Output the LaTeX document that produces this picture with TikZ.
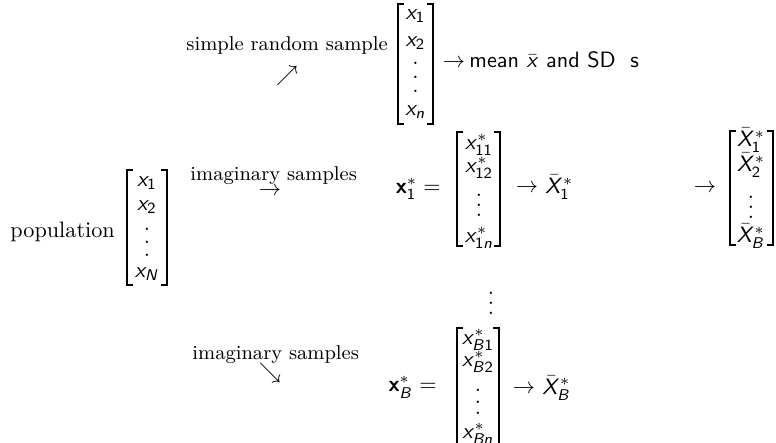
\documentclass[tikz,border=0pt]{standalone}
\usepackage{amsmath}
\DeclareMathAlphabet{\mathsfit}{OT1}{cmss}{m}{sl}
\DeclareMathAlphabet{\mathsfbf}{OT1}{cmss}{bx}{n}
\newcommand\myx{\mathsfit{x}}
\newcommand\myX{\bar{\mathsfit{X}}}
\newcommand\myn[1]{\mathsf{#1}}
\tikzset{
  brk/.style={line width=0.5pt},
  lbl/.style={font=\small},
  ent/.style={},
  dotnode/.style={}
}
% #1 name, #2 left, #3 right, #4 top, #5 bottom
\newcommand\brackets[5]{%
  \draw[brk] ({#2+6},#4) -- (#2,#4) -- (#2,#5) -- ({#2+6},#5);
  \draw[brk] ({#3-6},#4) -- (#3,#4) -- (#3,#5) -- ({#3-6},#5);
  \coordinate (#1) at ({(#2+#3)/2},{(#4+#5)/2});}
% #1 name prefix, #2 x, #3 #4 #5 y
\newcommand\threedots[5]{%
  \node[dotnode] (#1a) at (#2,#3) {.};
  \node[dotnode] (#1b) at (#2,#4) {.};
  \node[dotnode] (#1c) at (#2,#5) {.};}
\begin{document}
\begin{tikzpicture}[x=0.45pt,y=-0.45pt,every node/.style={inner sep=0pt}]
\useasboundingbox (0,0) rectangle (776,443);

% ---- top: simple random sample
\node[lbl,anchor=base west] (srs) at (186,51) {simple random sample};
\node (ne) at (287,76) {$\nearrow$};
\brackets{mtop}{398}{433}{4}{124}
\node[ent] (t1) at (415.5,16) {$\myx_{\myn1}$};
\node[ent] (t2) at (415.5,43) {$\myx_{\myn2}$};
\threedots{td}{415.5}{63}{77}{91}
\node[ent] (tn) at (415.5,112) {$\myx_{\mathsfit{n}}$};
\node (ta) at (454,63) {$\rightarrow$};
\node[anchor=base west] (mean) at (469,67.5) {\sffamily mean $\bar{\myx}$ and SD~~s};

% ---- middle: population
\node[anchor=base west] (pop) at (10,238) {population};
\brackets{mpop}{127}{167}{170}{285}
\node[ent] (p1) at (147,183) {$\myx_{\myn1}$};
\node[ent] (p2) at (147,207) {$\myx_{\myn2}$};
\threedots{pd}{147}{229}{242}{255}
\node[ent] (pN) at (147,274) {$\myx_{\mathsfit{N}}$};
\node[lbl,anchor=base west] (ims1) at (190,181) {imaginary samples};
\node (ra) at (270,191) {$\rightarrow$};

\node[anchor=base east] (xone) at (441,193.5) {$\mathsfbf{x}^*_{\myn1} =$};
\brackets{mone}{457}{500}{132}{246}
\node[ent] (o1) at (479,145) {$\myx^*_{\myn{11}}$};
\node[ent] (o2) at (479,168) {$\myx^*_{\myn{12}}$};
\threedots{od}{479}{195}{205}{215}
\node[ent] (on) at (479,238) {$\myx^*_{\myn1\mathsfit{n}}$};
\node (oa) at (527,188) {$\rightarrow$};
\node[anchor=base west] (obar) at (545,193.5) {$\myX^*_{\myn1}$};

\node (fa) at (705,188) {$\rightarrow$};
\brackets{mfin}{730}{773}{131}{245}
\node[ent] (f1) at (751,140) {$\myX^*_{\myn1}$};
\node[ent] (f2) at (751,165) {$\myX^*_{\myn2}$};
\threedots{fd}{751}{197}{207}{217}
\node[ent] (fB) at (751,236) {$\myX^*_{\mathsfit{B}}$};

% ---- bottom
\threedots{vd}{491}{293}{303}{313}
\node[lbl,anchor=base west] (ims2) at (192,360) {imaginary samples};
\node (se) at (270,373) {$\searrow$};
\node[anchor=base east] (xB) at (437,392) {$\mathsfbf{x}^*_{\mathsfit{B}} =$};
\brackets{mB}{457}{499}{328}{450}
\node[ent] (b1) at (478,340) {$\myx^*_{\mathsfit{B}\myn1}$};
\node[ent] (b2) at (478,362) {$\myx^*_{\mathsfit{B}\myn2}$};
\threedots{bd}{478}{390}{402}{413}
\node[ent] (bn) at (478,434) {$\myx^*_{\mathsfit{B}\mathsfit{n}}$};
\node (ba) at (524,389) {$\rightarrow$};
\node[anchor=base west] (bbar) at (542,394) {$\myX^*_{\mathsfit{B}}$};
\end{tikzpicture}
\end{document}
